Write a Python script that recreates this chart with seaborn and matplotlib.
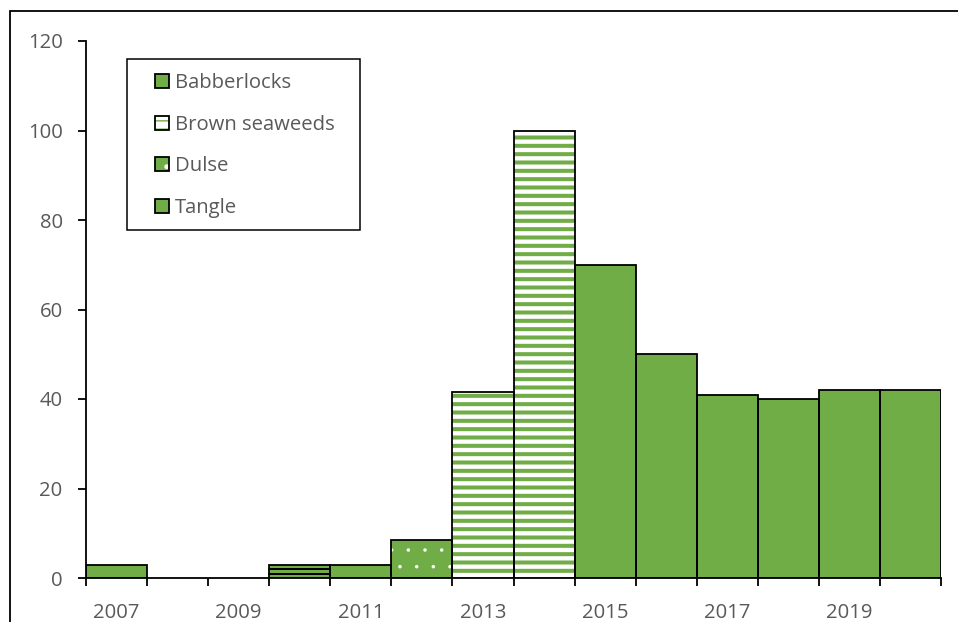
import numpy as np
import seaborn as sns
import matplotlib.pyplot as plt
from matplotlib.patches import Patch, Rectangle

sns.set_style('white')
plt.rcParams['font.family'] = ['Open Sans', 'DejaVu Sans']

years = list(range(2007, 2021))
babberlocks = [3, 0, 0, 1, 0, 0, 0, 0, 0, 0, 0, 0, 0, 0]
brown_seaweeds = [0, 0, 0, 0, 0, 0, 41.5, 100, 0, 0, 0, 0, 0, 0]
dulse = [0, 0, 0, 1, 0, 8.5, 0, 0, 0, 0, 0, 0, 0, 0]
tangle = [0, 0, 0, 1, 3, 0, 0, 0, 70, 50, 41, 40, 42, 42]

series_names = ['Babberlocks', 'Brown seaweeds', 'Dulse', 'Tangle']
series_values = [babberlocks, brown_seaweeds, dulse, tangle]

green = '#70AD47'
grey = '#595959'
# face colour, hatch, hatch colour
styles = {
    'Babberlocks': (green, None, None),
    'Brown seaweeds': ('white', '--', green),
    'Dulse': (green, '.', 'white'),
    'Tangle': (green, None, None),
}

fig = plt.figure(figsize=(9.58, 6.22), dpi=100)
ax = fig.add_axes([86 / 958, 44 / 622, 855 / 958, 537 / 622])

x = np.arange(len(years))
bottom = np.zeros(len(years))
handles = []
for name, vals in zip(series_names, series_values):
    vals = np.array(vals, dtype=float)
    keep = vals > 0
    face, hatch, hcol = styles[name]
    ax.bar(x[keep], vals[keep], width=1, bottom=bottom[keep], color=face, linewidth=0, zorder=2)
    h = [Patch(facecolor=face, linewidth=0)]
    if hatch:
        lw = 2.9 if hatch == '--' else 0.1
        with plt.rc_context({'hatch.linewidth': lw}):
            bars = ax.bar(x[keep], vals[keep], width=1, bottom=bottom[keep], facecolor='none',
                          edgecolor=hcol, linewidth=0, hatch=hatch, zorder=3)
            hp = Patch(facecolor='none', edgecolor=hcol, linewidth=0, hatch=hatch)
        for b in list(bars) + [hp]:
            if hasattr(b, 'set_hatch_linewidth'):
                b.set_hatch_linewidth(lw)
        h.append(hp)
    ax.bar(x[keep], vals[keep], width=1, bottom=bottom[keep], facecolor='none',
           edgecolor='black', linewidth=1.3, zorder=4)
    h.append(Patch(facecolor='none', edgecolor='black', linewidth=1.3))
    handles.append(tuple(h))
    bottom += vals

ax.set_xlim(-0.5, len(years) - 0.5)
ax.set_ylim(0, 120)
ax.set_yticks(np.arange(0, 121, 20))
ax.set_xticks(np.arange(-0.5, len(years), 1))
ax.set_xticklabels([])
ax.set_xticks(x[::2], minor=True)
ax.set_xticklabels([str(y) for y in years[::2]], minor=True)

fs = 14.6
ax.tick_params(axis='x', which='major', direction='out', length=5.5, width=1.3, color='black', bottom=True)
ax.tick_params(axis='x', which='minor', length=0, pad=18, labelsize=fs, labelcolor=grey, bottom=True)
ax.tick_params(axis='y', direction='out', length=5.8, width=1.3, color='black', pad=11,
               labelsize=fs, labelcolor=grey, left=True)

for side in ['top', 'right']:
    ax.spines[side].set_visible(False)
for side in ['left', 'bottom']:
    ax.spines[side].set_color('black')
    ax.spines[side].set_linewidth(1.3)
ax.grid(False)

leg = ax.legend(handles, series_names, loc='upper left', bbox_to_anchor=(155 / 958, 1 - 73 / 622),
                bbox_transform=fig.transFigure, frameon=False, fontsize=fs,
                handlelength=0.69, handleheight=0.69, handletextpad=0.3,
                labelspacing=1.07, borderpad=0, borderaxespad=0)
for t in leg.get_texts():
    t.set_color(grey)

fig.add_artist(Rectangle((127 / 958, 1 - 230 / 622), 233 / 958, 171 / 622, transform=fig.transFigure,
                         fill=False, edgecolor='black', linewidth=1.1))
fig.add_artist(Rectangle((10 / 958, -0.2), 1.2, 1.2 - 11 / 622, transform=fig.transFigure,
                         fill=False, edgecolor='black', linewidth=1.3, clip_on=False))

fig.savefig('out.png', dpi=100)
